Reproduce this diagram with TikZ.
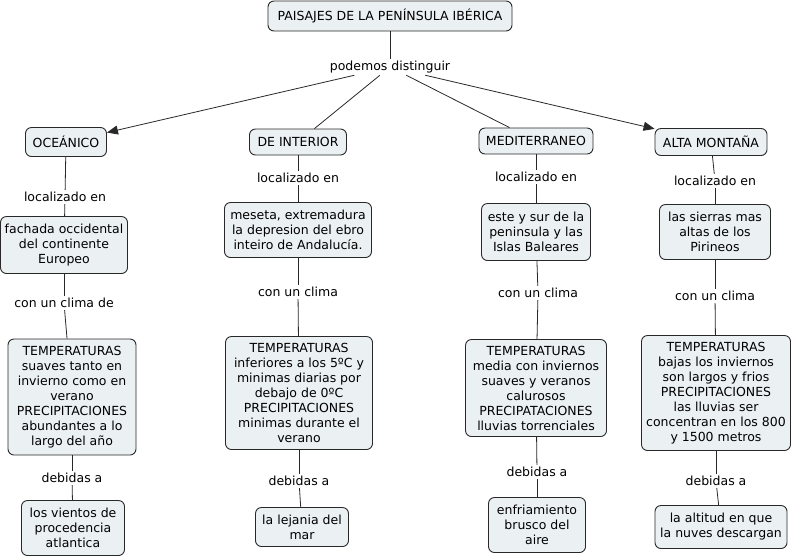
\documentclass[tikz,border=0pt]{standalone}
\usepackage{fontspec}
\setmainfont{DejaVu Sans}
\usetikzlibrary{arrows.meta}
\definecolor{boxfill}{RGB}{235,241,243}
\definecolor{boxline}{RGB}{40,40,40}
\tikzset{
  concept/.style={draw=boxline, fill=boxfill, rounded corners=6pt, line width=0.9pt,
    align=center, inner sep=2pt, font=\fontsize{12.5}{15}\selectfont},
  linkl/.style={fill=white, inner sep=2pt, font=\fontsize{12.5}{15}\selectfont},
  conn/.style={draw=boxline, line width=0.8pt},
  arr/.style={conn, -{Triangle[length=11pt,width=9pt]}}
}
\begin{document}
\begin{tikzpicture}[x=1pt,y=-1pt]
\useasboundingbox (0,0) rectangle (794,558);
% title
\node[concept, minimum width=244pt, minimum height=30pt] (title) at (390,16) {PAISAJES DE LA PENÍNSULA IBÉRICA};
\node[linkl] (pod) at (390,67) {podemos distinguir};
% level 1
\node[concept, minimum width=81pt, minimum height=29pt] (oce) at (66,142) {OCEÁNICO};
\node[concept, minimum width=97pt, minimum height=26pt] (int) at (298,142) {DE INTERIOR};
\node[concept, minimum width=114pt, minimum height=26pt] (med) at (536,141) {MEDITERRANEO};
\node[concept, minimum width=112pt, minimum height=27pt] (alt) at (711,142) {ALTA MONTAÑA};
% localizado en
\node[linkl] (l1) at (65,197) {localizado en};
\node[linkl] (l2) at (298,178) {localizado en};
\node[linkl] (l3) at (536,177) {localizado en};
\node[linkl] (l4) at (715,181) {localizado en};
% level 2
\node[concept, minimum width=127pt, minimum height=57pt] (oce2) at (64,245) {fachada occidental\\del continente\\Europeo};
\node[concept, minimum width=147pt, minimum height=55pt] (int2) at (298,230) {meseta, extremadura\\la depresion del ebro\\inteiro de Andalucía.};
\node[concept, minimum width=109pt, minimum height=57pt] (med2) at (536,232) {este y sur de la\\peninsula y las\\Islas Baleares};
\node[concept, minimum width=111pt, minimum height=55pt] (alt2) at (715,232) {las sierras mas\\altas de los\\Pirineos};
% con un clima
\node[linkl] (c1) at (64,303) {con un clima de};
\node[linkl] (c2) at (298,292) {con un clima};
\node[linkl] (c3) at (538,293) {con un clima};
\node[linkl] (c4) at (715,296) {con un clima};
% level 3
\node[concept, minimum width=128pt, minimum height=116pt] (oce3) at (72,397) {TEMPERATURAS\\suaves tanto en\\invierno como en\\verano\\PRECIPITACIONES\\abundantes a lo\\largo del año};
\node[concept, minimum width=147pt, minimum height=113pt] (int3) at (299,393) {TEMPERATURAS\\inferiores a los 5ºC y\\minimas diarias por\\debajo de 0ºC\\PRECIPITACIONES\\minimas durante el\\verano};
\node[concept, minimum width=141pt, minimum height=97pt] (med3) at (536,388) {TEMPERATURAS\\media con inviernos\\suaves y veranos\\calurosos\\PRECIPATACIONES\\lluvias torrenciales};
\node[concept, minimum width=149pt, minimum height=115pt] (alt3) at (716,393) {TEMPERATURAS\\bajas los inviernos\\son largos y frios\\PRECIPITACIONES\\las lluvias ser\\concentran en los 800\\y 1500 metros};
% debidas a
\node[linkl] (d1) at (72,478) {debidas a};
\node[linkl] (d2) at (299,481) {debidas a};
\node[linkl] (d3) at (537,472) {debidas a};
\node[linkl] (d4) at (716,481) {debidas a};
% level 4
\node[concept, minimum width=103pt, minimum height=55pt] (oce4) at (73,528) {los vientos de\\procedencia\\atlantica};
\node[concept, minimum width=93pt, minimum height=39pt] (int4) at (302,527) {la lejania del\\mar};
\node[concept, minimum width=97pt, minimum height=55pt] (med4) at (537,525) {enfriamiento\\brusco del\\aire};
\node[concept, minimum width=132pt, minimum height=43pt] (alt4) at (721,527) {la altitud en que\\la nuves descargan};
% connectors
\draw[conn] (title) -- (pod);
\draw[arr] (pod) -- (oce);
\draw[conn] (pod) -- (int);
\draw[conn] (pod) -- (med);
\draw[arr] (pod) -- (alt);
\foreach \a/\b/\c/\d/\e/\f/\g in {oce/l1/oce2/c1/oce3/d1/oce4, int/l2/int2/c2/int3/d2/int4, med/l3/med2/c3/med3/d3/med4, alt/l4/alt2/c4/alt3/d4/alt4}{
  \draw[conn] (\a) -- (\b);
  \draw[conn] (\b) -- (\c);
  \draw[conn] (\c) -- (\d);
  \draw[conn] (\d) -- (\e);
  \draw[conn] (\e) -- (\f);
  \draw[conn] (\f) -- (\g);
}
\end{tikzpicture}
\end{document}
